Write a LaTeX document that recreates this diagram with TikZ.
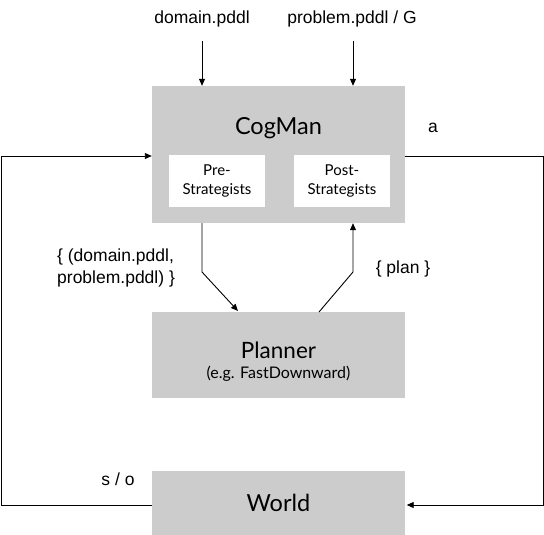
\documentclass[tikz,border=0pt]{standalone}
\usepackage{fontspec}
\setmainfont{Lato}
\newfontfamily\labelfont{Liberation Sans}
\usetikzlibrary{arrows.meta}

\definecolor{boxgray}{RGB}{204,204,204}

\tikzset{
  graybox/.style={fill=boxgray, minimum width=253pt, inner sep=0pt},
  boxtitle/.style={font=\fontsize{23.5}{27}\selectfont, inner sep=0pt},
  whitebox/.style={fill=white, minimum width=96pt, minimum height=52pt, inner sep=0pt,
    align=center, font=\fontsize{15}{19}\selectfont},
  flowlabel/.style={font=\labelfont\fontsize{17.5}{22}\selectfont, inner sep=0pt},
  arr/.style={-{Triangle[length=7pt,width=6pt]}, line width=0.9pt}
}

\begin{document}
\begin{tikzpicture}[x=1pt,y=-1pt]
\useasboundingbox (0,0) rectangle (544,535);

% boxes
\node[graybox, minimum height=137pt] (cogman) at (278.5,154.5) {};
\node[boxtitle] (cogtitle) at (278.5,128) {CogMan};
\node[whitebox] (pre) at (217,181) {Pre-\\Strategists};
\node[whitebox] (post) at (342,181) {Post-\\Strategists};

\node[graybox, minimum height=86pt] (planner) at (278.5,355) {};
\node[boxtitle, font=\fontsize{22.5}{26}\selectfont] (plantitle) at (278.5,350) {Planner};
\node[inner sep=0pt, font=\fontsize{16}{19}\selectfont] (plansub) at (278.5,374) {(e.g. FastDownward)};

\node[graybox, minimum height=68pt] (world) at (278.5,505) {};
\node[boxtitle] (worldtitle) at (278.5,503) {World};

% labels
\node[flowlabel] (dom) at (202,19) {domain.pddl};
\node[flowlabel] (prob) at (352,19) {problem.pddl / G};
\node[flowlabel, align=left, anchor=west] (pair) at (57,268) {\{ (domain.pddl,\\problem.pddl) \}};
\node[flowlabel] (plan) at (403,269) {\{ plan \}};
\node[flowlabel] (act) at (433,128) {a};
\node[flowlabel] (obs) at (118,479) {s / o};

% corners and bends
\coordinate (rcorner) at (543,156);
\coordinate (lcorner) at (1,156);
\coordinate (dbend) at (202,272);
\coordinate (dtip) at (238,311);
\coordinate (pstart) at (319,312);
\coordinate (pbend) at (353,272);

% inputs
\draw[arr, shorten <=14pt] (dom.south) -- (dom.south |- cogman.north);
\draw[arr, shorten <=14pt] (prob.south -| pbend) -- (pbend |- cogman.north);

% planner loop
\draw[arr] (cogman.south -| dbend) -- (dbend) -- (dtip);
\draw[arr] (pstart) -- (pbend) -- (pbend |- cogman.south);

% world loop
\draw[arr, shorten >=1.5pt] (cogman.east |- rcorner) -- (rcorner) |- (world.east);
\draw[arr] (world.west) -| (lcorner) -- (cogman.west |- lcorner);
\end{tikzpicture}
\end{document}
